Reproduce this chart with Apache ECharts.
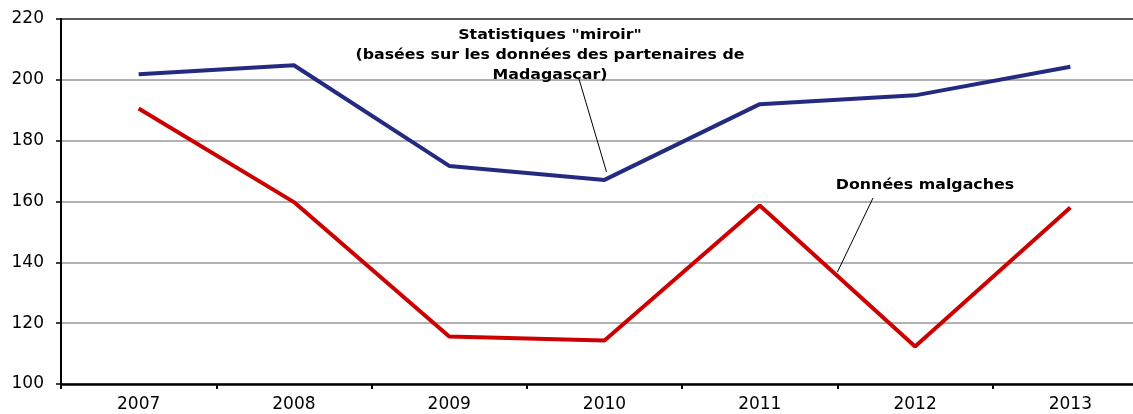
<!DOCTYPE html>
<html>
<head>
<meta charset="utf-8">
<script src="https://cdn.jsdelivr.net/npm/echarts@6/dist/echarts.min.js"></script>
<style>
  html, body { margin: 0; padding: 0; background: #fff; }
  #chart { width: 1133px; height: 414px; }
</style>
</head>
<body>
<div id="chart"></div>
<script>
var years = ['2007', '2008', '2009', '2010', '2011', '2012', '2013'];
var miroir = [201.8, 204.8, 171.7, 167.1, 192.0, 194.9, 204.3];
var malgaches = [190.6, 159.8, 115.6, 114.3, 158.7, 112.3, 158.0];
var yTicks = [100, 120, 140, 160, 180, 200, 220];

var myChart = echarts.init(document.getElementById('chart'));

var labelFont = { color: '#000', fontSize: 17, fontFamily: 'DejaVu Sans' };
var noteFont = 'bold 14px "DejaVu Sans"';

var option = {
  animation: false,
  grid: { left: 61, top: 19, width: 1087, height: 365, outerBoundsMode: 'none' },
  xAxis: {
    type: 'category',
    data: years,
    boundaryGap: true,
    axisLine: { lineStyle: { color: '#000', width: 2.5 } },
    axisTick: { show: true, length: 5, lineStyle: { color: '#000', width: 2 } },
    axisLabel: Object.assign({ margin: 12 }, labelFont)
  },
  yAxis: {
    type: 'value',
    min: yTicks[0],
    max: yTicks[yTicks.length - 1],
    interval: 20,
    axisLine: { show: true, lineStyle: { color: '#000', width: 2 } },
    axisTick: { show: true, length: 5, lineStyle: { color: '#000', width: 1.5 } },
    axisLabel: Object.assign({ margin: 17 }, labelFont),
    splitLine: { lineStyle: { color: ['#999', '#999', '#999', '#999', '#999', '#999', '#222'], width: 1.5 } }
  },
  series: [
    {
      name: 'miroir',
      type: 'line',
      data: miroir,
      symbol: 'none',
      lineStyle: { color: '#232a80', width: 4 }
    },
    {
      name: 'malgaches',
      type: 'line',
      data: malgaches,
      symbol: 'none',
      lineStyle: { color: '#cc0000', width: 4 }
    }
  ]
};

myChart.setOption(option);

// annotations, anchored on the data points
var pBlue = myChart.convertToPixel({ seriesIndex: 0 }, [3, miroir[3]]);
var p11 = myChart.convertToPixel({ seriesIndex: 1 }, [4, malgaches[4]]);
var p12 = myChart.convertToPixel({ seriesIndex: 1 }, [5, malgaches[5]]);
var t = 0.5;
var pRed = [p11[0] + (p12[0] - p11[0]) * t, p11[1] + (p12[1] - p11[1]) * t];

myChart.setOption({
  graphic: [
    {
      type: 'text', x: 550, y: 25, scaleX: 1.13,
      style: { text: 'Statistiques "miroir"\n(basées sur les données des partenaires de\nMadagascar)',
        font: noteFont, fill: '#000', align: 'center', verticalAlign: 'top', lineHeight: 20 }
    },
    {
      type: 'line',
      shape: { x1: 579, y1: 79, x2: pBlue[0] + 2, y2: pBlue[1] - 8 },
      style: { stroke: '#000', lineWidth: 1 }
    },
    {
      type: 'text', x: 925, y: 185, scaleX: 1.13,
      style: { text: 'Données malgaches', font: noteFont, fill: '#000', align: 'center', verticalAlign: 'middle' }
    },
    {
      type: 'line',
      shape: { x1: 873, y1: 198, x2: pRed[0], y2: pRed[1] - 4 },
      style: { stroke: '#000', lineWidth: 1 }
    }
  ]
});
</script>
</body>
</html>
